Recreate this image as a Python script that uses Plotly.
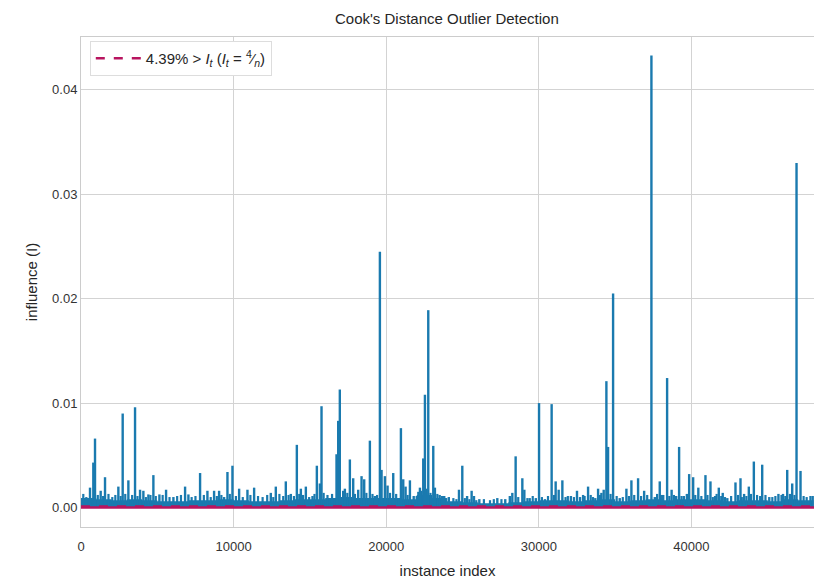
import plotly.graph_objects as go

# ---- data ----
spike_index = [590, 807, 918, 1290, 1574, 2448, 2732, 3104, 3541, 3869, 4087, 4415, 4743,
               5137, 5574, 6055, 6820, 7038, 7803, 8284, 8721, 9049, 9377, 9596, 9924,
               10361, 10907, 11344, 12437, 12765, 13420, 13748, 14143, 14406, 14733,
               15170, 15454, 15650, 15760, 16743, 16852, 16960, 17180, 17290, 17618,
               17836, 18164, 18383, 18557, 18929, 19250, 19585, 19694, 19913, 20088,
               20459, 20962, 21115, 21268, 21552, 21800, 22000, 22208, 22426, 22536,
               22754, 23082, 23190, 23500, 23800, 24100, 24767, 24984, 25300, 25596,
               25750, 26100, 27279, 27800, 28100, 28262, 28480, 28918, 29050, 29400,
               29800, 30013, 30400, 30839, 31102, 31300, 31541, 32100, 32500, 32700,
               32900, 33226, 33700, 33882, 34100, 34250, 34426, 34536, 34865, 35300,
               35738, 36066, 36503, 36900, 37377, 37600, 37923, 38150, 38405, 38700,
               39000, 39191, 39500, 39700, 39849, 40111, 40450, 40918, 41246, 41550,
               41792, 42050, 42350, 42885, 43213, 43450, 43760, 44088, 44636, 45100,
               45700, 46000, 46275, 46603, 46885, 47147, 47800]
spike_value = [0.0019, 0.0043, 0.0066, 0.0016, 0.0029, 0.0020, 0.0090, 0.0026, 0.0096,
               0.0017, 0.0016, 0.00125, 0.0031, 0.00125, 0.0017, 0.0010, 0.0020, 0.00125,
               0.0033, 0.0016, 0.0016, 0.0016, 0.0010, 0.0034, 0.0040, 0.0018, 0.0017,
               0.0019, 0.0014, 0.0020, 0.0025, 0.0013, 0.0060, 0.0018, 0.0020, 0.0011,
               0.0040, 0.0023, 0.0097, 0.0051, 0.0083, 0.0113, 0.0016, 0.0018, 0.0046,
               0.0028, 0.0017, 0.0030, 0.0027, 0.0064, 0.0011, 0.0245, 0.0036, 0.0030,
               0.0021, 0.0033, 0.0076, 0.0027, 0.0020, 0.0026, 0.0011, 0.0011, 0.0019,
               0.0047, 0.0108, 0.0189, 0.0059, 0.0019, 0.0012, 0.0011, 0.0010, 0.0017,
               0.0040, 0.0011, 0.0016, 0.0011, 0.0008, 0.0009, 0.0008, 0.0011, 0.0014,
               0.0049, 0.0028, 0.0017, 0.0009, 0.0009, 0.0100, 0.0008, 0.0099, 0.0025,
               0.0017, 0.0026, 0.0011, 0.0016, 0.0010, 0.0012, 0.0020, 0.0009, 0.0018,
               0.0014, 0.0017, 0.0121, 0.0058, 0.0205, 0.0009, 0.0018, 0.0026, 0.0028,
               0.0016, 0.0433, 0.0010, 0.0025, 0.0012, 0.0124, 0.0017, 0.0011, 0.0058,
               0.0011, 0.0013, 0.0032, 0.0029, 0.0019, 0.0031, 0.0025, 0.0011, 0.0019,
               0.0014, 0.0009, 0.0024, 0.0028, 0.0013, 0.0020, 0.0044, 0.0041, 0.0010,
               0.0013, 0.0013, 0.0036, 0.0023, 0.0330, 0.0035, 0.0011]

# small stems forming the jagged band just above zero
minor_index = [150, 350, 1100, 1450, 1800, 2050, 2250, 2600, 2900, 3350, 3700, 4250, 4550,
               4900, 5350, 5800, 6300, 6550, 7250, 7500, 8050, 8500, 8900, 9200, 9750,
               10150, 10600, 11100, 11600, 11900, 12200, 12600, 13000, 13250, 13600, 13950,
               14300, 14550, 14950, 15300, 15900, 16150, 16450, 17450, 17950, 18700, 19100,
               19400, 20250, 20650, 21400, 22100, 22300, 22650, 22900, 23350, 23650, 24400,
               24600, 25150, 25450, 25900, 26400, 26800, 27050, 27550, 28650, 29250, 29600,
               30200, 30600, 31000, 31750, 31900, 32300, 33000, 33400, 33550, 34000, 34700,
               35100, 35500, 35900, 36250, 36700, 37100, 37750, 38000, 38550, 38850, 39350,
               40250, 40650, 41050, 41400, 41650, 41950, 42200, 42600, 43050, 43300, 43600,
               43900, 44300, 44500, 44850, 45300, 45500, 45900, 46150, 46450, 46750, 47350,
               47550, 47950]
minor_value = [0.0013, 0.0010, 0.0012, 0.0011, 0.0013, 0.0010, 0.0012, 0.0011, 0.0013,
               0.0012, 0.0011, 0.0010, 0.0012, 0.0011, 0.0012, 0.0010, 0.0011, 0.0012,
               0.0010, 0.0011, 0.0012, 0.0010, 0.0011, 0.0012, 0.0013, 0.0011, 0.0010,
               0.0012, 0.0011, 0.0010, 0.0012, 0.0010, 0.0013, 0.0011, 0.0012, 0.0011,
               0.0013, 0.0012, 0.0010, 0.0013, 0.0014, 0.0012, 0.0013, 0.0014, 0.0013,
               0.0014, 0.0013, 0.0012, 0.0014, 0.0013, 0.0012, 0.0015, 0.0016, 0.0018,
               0.0014, 0.0013, 0.0011, 0.0009, 0.0008, 0.0009, 0.0008, 0.0007, 0.0008,
               0.0007, 0.0008, 0.0008, 0.0010, 0.0009, 0.0011, 0.0010, 0.0011, 0.0012,
               0.0010, 0.0011, 0.0010, 0.0011, 0.0012, 0.0010, 0.0012, 0.0013, 0.0011,
               0.0010, 0.0011, 0.0012, 0.0011, 0.0012, 0.0013, 0.0012, 0.0011, 0.0012,
               0.0011, 0.0012, 0.0011, 0.0012, 0.0010, 0.0013, 0.0011, 0.0010, 0.0011,
               0.0012, 0.0010, 0.0011, 0.0013, 0.0012, 0.0011, 0.0012, 0.0010, 0.0011,
               0.0012, 0.0011, 0.0013, 0.0012, 0.0011, 0.0010, 0.0011]

block_start = list(range(0, 48001, 1000))
block_value = [0.0009, 0.0008, 0.0007, 0.0008, 0.0007, 0.0006, 0.0006, 0.0007, 0.0007,
               0.0008, 0.0007, 0.0006, 0.0006, 0.0007, 0.0008, 0.0008, 0.0009, 0.0010,
               0.0009, 0.0009, 0.0009, 0.0008, 0.0012, 0.0009, 0.0006, 0.0005, 0.0004,
               0.0004, 0.0005, 0.0006, 0.0007, 0.0007, 0.0006, 0.0007, 0.0008, 0.0006,
               0.0007, 0.0008, 0.0007, 0.0008, 0.0008, 0.0007, 0.0006, 0.0007, 0.0007,
               0.0006, 0.0008, 0.0007, 0.0007]

n_instances = 48030
threshold = 4 / n_instances
pct_over = "4.39"

x_ticks = [0, 10000, 20000, 30000, 40000]
y_ticks = [0.00, 0.01, 0.02, 0.03, 0.04]

STEM = "#1a7aaf"
MAG = "#b8145f"


def stems(idx, val):
    xs, ys = [], []
    for i, v in zip(idx, val):
        xs += [i, i, None]
        ys += [0, v, None]
    return xs, ys


fig = go.Figure()
fig.add_trace(go.Scatter(x=block_start, y=block_value, mode="lines", line=dict(shape="hv", width=0, color=STEM),
                         fill="tozeroy", fillcolor=STEM, showlegend=False, hoverinfo="skip"))
mx, my = stems(minor_index, minor_value)
fig.add_trace(go.Scatter(x=mx, y=my, mode="lines", line=dict(color=STEM, width=2.2),
                         showlegend=False, hoverinfo="skip"))
sx, sy = stems(spike_index, spike_value)
fig.add_trace(go.Scatter(x=sx, y=sy, mode="lines", line=dict(color=STEM, width=2.4),
                         showlegend=False, hoverinfo="skip"))
fig.add_trace(go.Scatter(x=[0, n_instances], y=[0, 0], mode="lines", line=dict(color=MAG, width=2.5),
                         showlegend=False, hoverinfo="skip"))
fig.add_trace(go.Scatter(x=[0, n_instances], y=[threshold, threshold], mode="lines",
                         line=dict(color=MAG, width=2.5, dash="dash"),
                         name=f"{pct_over}% &gt; <i>I<sub>t</sub></i> (<i>I<sub>t</sub></i> = <sup>4</sup>&#8260;<sub><i>n</i></sub>)"))

fig.update_layout(
    width=814, height=579,
    margin=dict(l=81, r=0, t=37, b=52, autoexpand=False),
    paper_bgcolor="white", plot_bgcolor="white",
    font=dict(family="Liberation Sans, Arial, sans-serif", size=13, color="#333333"),
    title=dict(text="Cook's Distance Outlier Detection", x=0.549, xref="container", xanchor="center",
               y=0.967, yref="container", yanchor="middle",
               font=dict(size=15, color="#262626")),
    xaxis=dict(range=[0, 48030], tickvals=x_ticks, ticktext=[str(t) for t in x_ticks],
               showgrid=True, gridcolor="#d3d3d3", gridwidth=1, zeroline=False,
               showline=True, linecolor="#cccccc", linewidth=1, mirror=True, automargin=False,
               ticks="", ticklabelstandoff=7,
               title=dict(text="instance index", font=dict(size=15, color="#262626"), standoff=16),
               tickfont=dict(size=13, color="#333333")),
    yaxis=dict(range=[-0.00187, 0.04507], tickvals=y_ticks, ticktext=[f"{t:.2f}" for t in y_ticks],
               showgrid=True, gridcolor="#d3d3d3", gridwidth=1, zeroline=False,
               showline=True, linecolor="#cccccc", linewidth=1, automargin=False,
               ticks="", title=dict(text="influence (I)", font=dict(size=15, color="#262626"), standoff=10),
               tickfont=dict(size=13, color="#333333")),
    legend=dict(x=0.012, y=0.992, xanchor="left", yanchor="top", bgcolor="white", itemwidth=45,
                bordercolor="#dddddd", borderwidth=1, font=dict(size=15, color="#262626")),
)

fig.write_html("out.html", config={"displayModeBar": False},
               post_script="document.body.style.margin='0px';document.body.style.overflow='hidden';")
